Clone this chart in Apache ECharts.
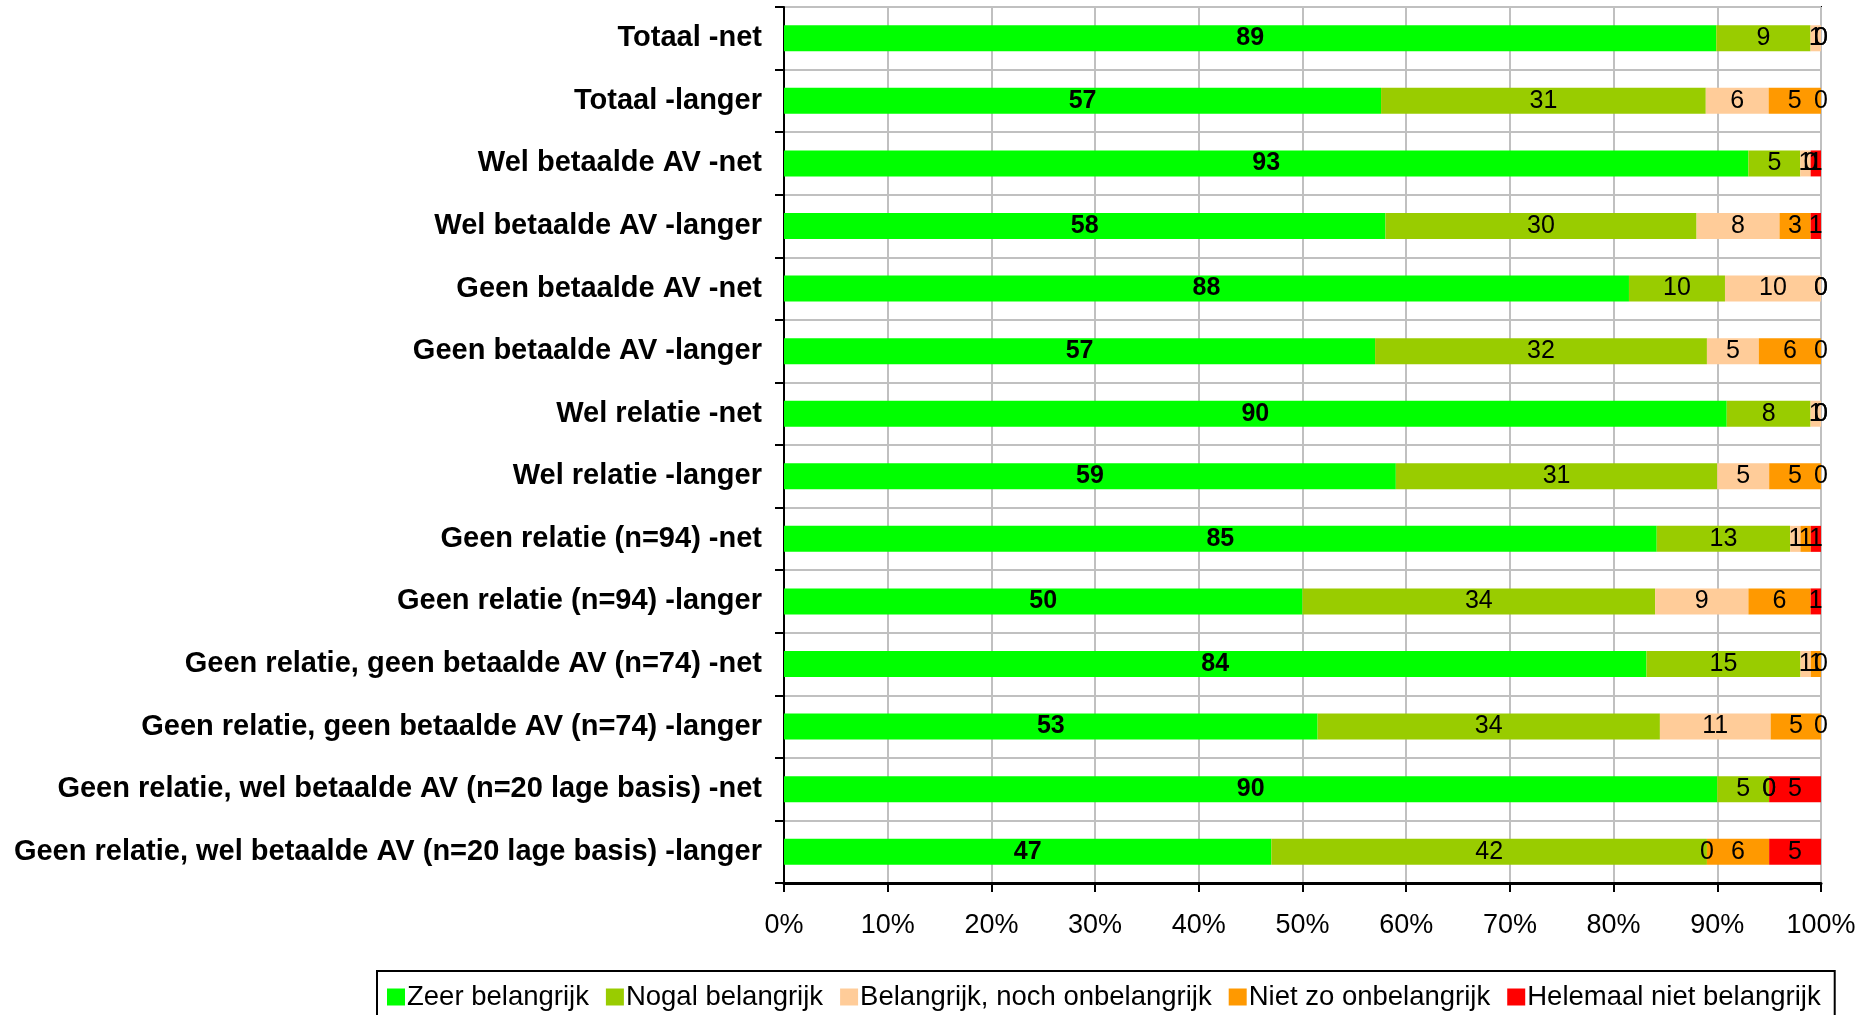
<!DOCTYPE html>
<html>
<head>
<meta charset="utf-8">
<script src="https://cdn.jsdelivr.net/npm/echarts@6/dist/echarts.min.js"></script>
<style>
  html, body { margin:0; padding:0; background:#fff; }
  #chart { width:1868px; height:1015px; }
</style>
</head>
<body>
<div id="chart"></div>
<script>
/* categorieën, van boven naar beneden */
const categories = [
  'Totaal -net',
  'Totaal -langer',
  'Wel betaalde AV -net',
  'Wel betaalde AV -langer',
  'Geen betaalde AV -net',
  'Geen betaalde AV -langer',
  'Wel relatie -net',
  'Wel relatie -langer',
  'Geen relatie (n=94) -net',
  'Geen relatie (n=94) -langer',
  'Geen relatie, geen betaalde AV (n=74) -net',
  'Geen relatie, geen betaalde AV (n=74) -langer',
  'Geen relatie, wel betaalde AV (n=20 lage basis) -net',
  'Geen relatie, wel betaalde AV (n=20 lage basis) -langer'
]

/* waarden per antwoordcategorie */
const zeer     = [89, 57, 93, 58, 88, 57, 90, 59, 85, 50, 84, 53, 90, 47]
const nogal    = [ 9, 31,  5, 30, 10, 32,  8, 31, 13, 34, 15, 34,  5, 42]
const neutraal = [ 1,  6,  1,  8, 10,  5,  1,  5,  1,  9,  1, 11,  0,  0]
const nietZo   = [ 0,  5,  0,  3,  0,  6,  0,  5,  1,  6,  1,  5,  0,  6]
const helemaal = [ 0,  0,  1,  1,  0,  0,  0,  0,  1,  1,  0,  0,  5,  5]

const seriesNames = ['Zeer belangrijk', 'Nogal belangrijk', 'Belangrijk, noch onbelangrijk', 'Niet zo onbelangrijk', 'Helemaal niet belangrijk']
const colors = ['#00FF00', '#99CC00', '#FFCC99', '#FF9900', '#FF0000']
const xTicks = [0, 10, 20, 30, 40, 50, 60, 70, 80, 90, 100]

const FONT = '"Liberation Sans", Arial, sans-serif'
const all = [zeer, nogal, neutraal, nietZo, helemaal]
const totals = categories.map((_, i) => all.reduce((s, a) => s + a[i], 0))

const chart = echarts.init(document.getElementById('chart'))

chart.setOption({
  animation: false,
  grid: {
    left: 784, right: 47, top: 7, bottom: 132,
    show: true, borderColor: '#000', borderWidth: 2
  },
  legend: {
    left: 377, top: 971,
    padding: [12, 14, 40, 10],
    itemGap: 17,
    itemWidth: 18, itemHeight: 17,
    borderColor: '#000', borderWidth: 2,
    icon: 'rect',
    textStyle: { fontFamily: FONT, fontSize: 27.5, color: '#000', padding: [0, 0, 0, -3] },
    data: seriesNames
  },
  xAxis: {
    type: 'value',
    min: 0, max: 100, interval: 10,
    axisLine: { show: true, lineStyle: { color: '#000', width: 3 } },
    axisTick: { show: true, length: 9, lineStyle: { color: '#000', width: 2 } },
    axisLabel: {
      fontFamily: FONT, fontSize: 27, color: '#000', margin: 29,
      formatter: v => xTicks.includes(v) ? v + '%' : ''
    },
    splitLine: { show: true, lineStyle: { color: '#c0c0c0', width: 2 } }
  },
  yAxis: {
    type: 'category',
    inverse: true,
    data: categories,
    axisLine: { show: true, lineStyle: { color: '#000', width: 2 } },
    axisTick: { show: true, length: 9, lineStyle: { color: '#000', width: 2 } },
    axisLabel: {
      fontFamily: FONT, fontSize: 29, fontWeight: 'bold', color: '#000', margin: 22
    },
    splitLine: { show: true, lineStyle: { color: '#c0c0c0', width: 2 } }
  },
  series: all.map((arr, k) => ({
    name: seriesNames[k],
    type: 'bar',
    stack: 'totaal',
    barWidth: 26,
    clip: false,
    itemStyle: { color: colors[k] },
    label: {
      show: true,
      position: 'inside',
      fontFamily: FONT,
      fontSize: 25,
      fontWeight: k === 0 ? 'bold' : 'normal',
      color: '#000',
      formatter: p => String(arr[p.dataIndex])
    },
    data: arr.map((v, i) => v / totals[i] * 100)
  }))
})
</script>
</body>
</html>
